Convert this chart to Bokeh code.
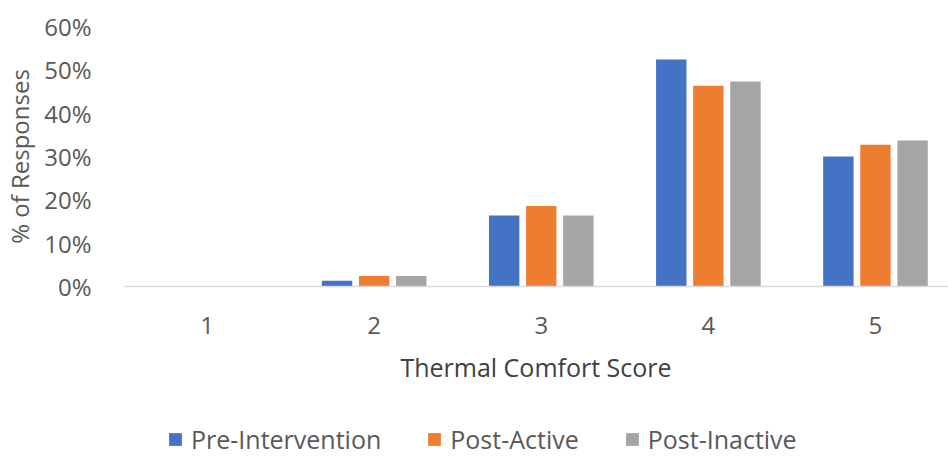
from bokeh.plotting import figure
from bokeh.layouts import column
from bokeh.models import ColumnDataSource, FixedTicker, NumeralTickFormatter, Legend, LegendItem
from bokeh.transform import dodge
from bokeh.embed import file_html
from bokeh.resources import INLINE

# Thermal comfort score distribution (share of responses, %)
scores = [1, 2, 3, 4, 5]
pre_intervention = [0.0, 1.3, 16.4, 52.4, 30.0]
post_active = [0.0, 2.4, 18.6, 46.3, 32.7]
post_inactive = [0.0, 2.4, 16.4, 47.3, 33.7]
series_names = ["Pre-Intervention", "Post-Active", "Post-Inactive"]
series_colors = ["#4472C4", "#ED7D31", "#A5A5A5"]
y_ticks = [0.0, 0.1, 0.2, 0.3, 0.4, 0.5, 0.6]

FONT = "Open Sans"
SIZE = "24px"
TEXT = "#595959"

source = ColumnDataSource(data=dict(
    score=scores,
    pre=[v / 100 for v in pre_intervention],
    active=[v / 100 for v in post_active],
    inactive=[v / 100 for v in post_inactive],
))

p = figure(
    width=948, height=410,
    x_range=(0.5, 5.437), y_range=(0, 0.6),
    output_backend="svg", toolbar_location=None,
    min_border_left=123, min_border_right=0,
    min_border_top=26, min_border_bottom=124,
)
p.outline_line_color = None
p.xgrid.visible = False
p.ygrid.visible = False

offsets = [-0.222, 0.0, 0.222]
fields = ["pre", "active", "inactive"]
for off, fld, col in zip(offsets, fields, series_colors):
    p.vbar(x=dodge("score", off, range=p.x_range), top=fld, width=0.182,
           source=source, fill_color=col, line_color=None)

# x axis: baseline only
xa = p.xaxis[0]
xa.ticker = FixedTicker(ticks=scores)
xa.axis_line_color = "#D9D9D9"
xa.axis_line_width = 1.5
xa.major_tick_line_color = None
xa.minor_tick_line_color = None
xa.major_label_text_font = FONT
xa.major_label_text_font_size = SIZE
xa.major_label_text_color = TEXT
xa.major_label_standoff = 24
xa.axis_label = "Thermal Comfort Score"
xa.axis_label_text_font = FONT
xa.axis_label_text_font_size = "25px"
xa.axis_label_text_font_style = "normal"
xa.axis_label_text_color = "#404040"
xa.axis_label_standoff = 13

# y axis: labels only
ya = p.yaxis[0]
ya.ticker = FixedTicker(ticks=y_ticks)
ya.formatter = NumeralTickFormatter(format="0%")
ya.axis_line_color = None
ya.major_tick_line_color = None
ya.minor_tick_line_color = None
ya.major_label_text_font = FONT
ya.major_label_text_font_size = SIZE
ya.major_label_text_color = TEXT
ya.major_label_standoff = 26
ya.axis_label = "% of Responses"
ya.axis_label_text_font = FONT
ya.axis_label_text_font_size = SIZE
ya.axis_label_text_font_style = "normal"
ya.axis_label_text_color = TEXT
ya.axis_label_standoff = 5

# legend strip under the chart; its renderers are hidden and only feed the swatches
leg = figure(
    width=948, height=46, x_range=(0, 1), y_range=(0, 1),
    x_axis_type=None, y_axis_type=None,
    output_backend="svg", toolbar_location=None,
    min_border_left=0, min_border_right=0, min_border_top=0, min_border_bottom=0,
)
leg.outline_line_color = None
leg.xgrid.visible = False
leg.ygrid.visible = False
swatches = []
for fld, col in zip(fields, series_colors):
    r = leg.vbar(x="score", top=fld, width=0.182, source=source,
                 fill_color=col, line_color=None)
    r.visible = False
    swatches.append(r)

legend = Legend(
    items=[LegendItem(label=n, renderers=[r]) for n, r in zip(series_names, swatches)],
    orientation="horizontal", location=(44, 0),
    label_text_font=FONT, label_text_font_size="25px", label_text_color=TEXT,
    glyph_width=16, glyph_height=16, label_standoff=8, spacing=45,
    padding=0, margin=0, border_line_color=None, background_fill_alpha=0,
    inactive_fill_alpha=0,
)
leg.add_layout(legend, "center")

layout = column(p, leg, spacing=0)
open("out.html", "w").write(file_html(layout, INLINE))
